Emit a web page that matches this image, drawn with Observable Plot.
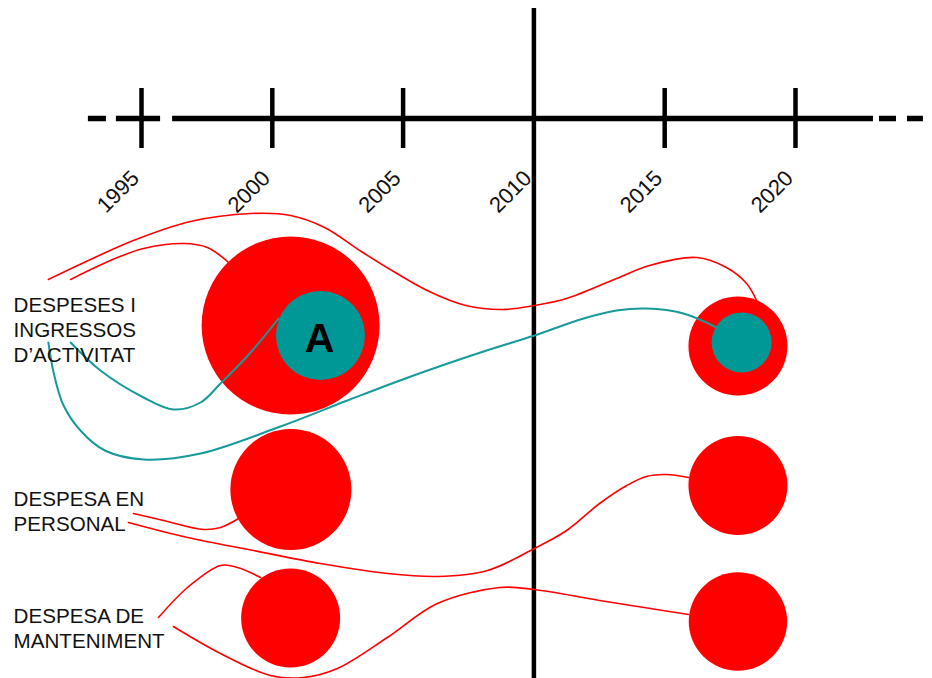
<!DOCTYPE html>
<html><head><meta charset="utf-8">
<script src="https://cdn.jsdelivr.net/npm/d3@7"></script>
<script src="https://cdn.jsdelivr.net/npm/@observablehq/plot@0.6"></script>
<style>body{margin:0;background:#fff} svg{display:block;font-family:"Liberation Sans",Arial,sans-serif}</style>
</head><body><div id="chart"></div>
<script>
// ---- timeline ----
const tickYears = [1995, 2000, 2005, 2015, 2020];
const labelYears = [1995, 2000, 2005, 2010, 2015, 2020];
const tickLabels = ["1995", "2000", "2005", "2010", "2015", "2020"];
const dividerYear = 2010;
// axis line pieces (year from, year to): two dashes each side + solid part
const axisFrom = [1992.97, 1994.04, 1996.19, 2023.21, 2024.28];
const axisTo   = [1993.66, 1995.73, 2022.98, 2023.86, 2024.89];

// ---- categories (row labels) ----
const categories = ["DESPESES I\nINGRESSOS\nD’ACTIVITAT", "DESPESA EN\nPERSONAL", "DESPESA DE\nMANTENIMENT"];
const categoryRow = [293.5, 487.5, 604.5];
const categoryYear = 1990.11;

// ---- circles ----
const circleYear = [2000.70, 2001.84, 2000.71, 2000.70, 2017.80, 2017.94, 2017.80, 2017.80];
const circleRow  = [325, 335, 489, 617.5, 345.5, 342, 485, 621];
const circleSize = [89, 44.5, 60.5, 49.5, 49.5, 30, 49.5, 49.2];
const circleKind = ["red", "teal", "red", "red", "red", "teal", "red", "red"];
const circleText = ["", "A", "", "", "", "", "", ""];

// ---- connector curves [year, row] ----
const activitatRedOuter = [[1991.44,279],[1993.05,259],[1994.69,240],[1996.87,221],[1999.17,213],[2000.70,215],[2002.00,227],[2003.40,251],[2004.70,272],[2006.00,291],[2007.40,305],[2008.80,309],[2010.02,305],[2011.25,298],[2013.16,278],[2014.42,265],[2016.22,257],[2017.36,267],[2018.13,283],[2018.51,300]];
const activitatRedInner = [[1992.29,279],[1993.81,260],[1995.08,248],[1996.61,243],[1997.52,247],[1998.33,262]];
const activitatTealInner = [[1992.29,342],[1993.43,370],[1995.08,397],[1996.22,409],[1997.26,402],[1998.02,383],[1999.17,352],[2000.24,318]];
const activitatTealOuter = [[1991.44,342],[1991.64,372],[1992.02,405],[1992.70,431],[1993.60,450],[1995.08,459],[1997.26,453],[2000.31,426],[2002.87,400],[2005.40,375],[2007.96,352],[2010.02,335],[2011.90,318],[2013.16,310],[2014.30,308],[2015.72,313],[2016.98,327]];
const personalInner = [[1994.69,513],[1995.84,520],[1997.37,529],[1998.02,527],[1998.71,518]];
const personalOuter = [[1994.50,522],[1996.76,537],[1999.28,550],[2001.84,563],[2004.40,573],[2006.31,576],[2008.23,570],[2010.02,548],[2011.25,530],[2012.51,503],[2013.55,485],[2014.30,476],[2015.07,474],[2015.91,477]];
const mantenimentInner = [[1995.65,617],[1996.76,587],[1998.02,565],[1998.67,567],[1999.55,577]];
const mantenimentOuter = [[1996.22,626],[1998.02,653],[1999.93,675],[2001.19,677],[2002.49,668],[2004.40,637],[2006.31,603],[2008.69,587],[2010.02,589],[2012.51,600],[2015.91,614]];

const RED = "#ff0000", TEAL = "#009797", TEAL_LINE = "#169a9a";

const curves = [
  {pts: activitatRedOuter, c: RED, w: 1.6},
  {pts: activitatRedInner, c: RED, w: 1.6},
  {pts: activitatTealInner, c: TEAL_LINE, w: 2},
  {pts: activitatTealOuter, c: TEAL_LINE, w: 2},
  {pts: personalInner, c: RED, w: 1.6},
  {pts: personalOuter, c: RED, w: 1.6},
  {pts: mantenimentInner, c: RED, w: 1.6},
  {pts: mantenimentOuter, c: RED, w: 1.6}
];

const circles = circleYear.map((y, i) => ({year: y, row: circleRow[i], size: circleSize[i], kind: circleKind[i], text: circleText[i]}));
const axisSegs = axisFrom.map((a, i) => ({x1: a, x2: axisTo[i]}));
const labels = labelYears.map((y, i) => ({year: y, label: tickLabels[i]}));
const cats = categories.map((c, i) => ({label: c, row: categoryRow[i]}));

const chart = Plot.plot({
  width: 932,
  height: 678,
  marginLeft: 141,
  marginRight: 137,
  marginTop: 0,
  marginBottom: 0,
  x: {domain: [1995, 2020], axis: null},
  y: {domain: [0, 678], range: [0, 678], axis: null},
  r: {type: "linear", domain: [0, 100], range: [0, 100]},
  style: {fontFamily: "'Liberation Sans', Arial, sans-serif", background: "#fff", overflow: "visible"},
  marks: [
    // timeline
    Plot.ruleY(axisSegs, {y: () => 118, x1: "x1", x2: "x2", stroke: "#000", strokeWidth: 5.5}),
    Plot.ruleX(tickYears, {x: d => d, y1: 88, y2: 148, stroke: "#000", strokeWidth: 4.5}),
    Plot.ruleX([dividerYear], {x: d => d, y1: 8, y2: 678, stroke: "#000", strokeWidth: 4.5}),
    Plot.text(labels, {x: "year", y: () => 179, text: "label", rotate: -45, textAnchor: "end", lineAnchor: "bottom", fontSize: 22, fill: "#111", dx: -1}),
    // circles
    Plot.dot(circles, {x: "year", y: "row", r: "size", fill: d => d.kind === "red" ? RED : TEAL, stroke: null}),
    Plot.text(circles.filter(d => d.text), {x: "year", y: "row", text: "text", fontSize: 41, fontWeight: "bold", fill: "#000", dx: -1, dy: 3}),
    // curves
    ...curves.map(cv => Plot.line(cv.pts, {x: d => d[0], y: d => d[1], curve: "catmull-rom", stroke: cv.c, strokeWidth: cv.w})),
    // category labels
    Plot.text(cats, {x: () => categoryYear, y: "row", text: "label", textAnchor: "start", lineAnchor: "top", lineHeight: 1.22, fontSize: 20.6, fill: "#111"})
  ]
});
document.getElementById("chart").appendChild(chart);
</script>
</body></html>
